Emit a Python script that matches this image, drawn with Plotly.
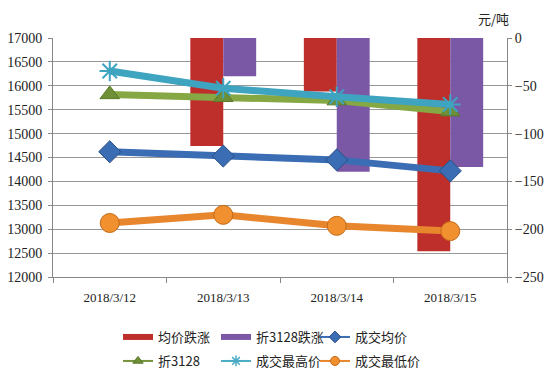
import plotly.graph_objects as go

dates = ["2018/3/12", "2018/3/13", "2018/3/14", "2018/3/15"]
avg_change = [0, -113, -56, -223]        # 均价跌涨 (right axis)
z3128_change = [0, -40, -140, -135]      # 折3128跌涨 (right axis)
avg_price = [14620, 14530, 14450, 14220]  # 成交均价
z3128 = [15820, 15760, 15690, 15460]      # 折3128
high_price = [16310, 15950, 15770, 15610] # 成交最高价
low_price = [13130, 13300, 13070, 12960]  # 成交最低价

L, R, T, B = 53, 46, 38, 100
W, H = 553, 377
PW = W - L - R
PH = H - T - B

fig = go.Figure()
fig.add_trace(go.Bar(x=dates, y=avg_change, name="均价跌涨", yaxis="y", showlegend=False,
                     marker=dict(color="#BE2F2C", line=dict(color="#8E1F1E", width=0))))
fig.add_trace(go.Bar(x=dates, y=z3128_change, name="折3128跌涨", yaxis="y", showlegend=False,
                     marker=dict(color="#7A58A6", line=dict(color="#553B7A", width=0))))

lines = [
    ("成交均价", avg_price, "#3A6DB3", dict(symbol="diamond", size=17, color="#3A6DB3",
                                          line=dict(color="#2A4F86", width=1))),
    ("折3128", z3128, "#86A844", dict(symbol="triangle-up", size=17, color="#6E8F35",
                                      line=dict(color="#5A7A2A", width=1))),
    ("成交最高价", high_price, "#3EA4C0", dict(symbol="asterisk-open", size=17,
                                             line=dict(color="#6FB9D8", width=2))),
    ("成交最低价", low_price, "#E8862E", dict(symbol="circle", size=19, color="#F0902E",
                                            line=dict(color="#C46A18", width=1))),
]
for name, vals, col, mk in lines:
    fig.add_trace(go.Scatter(x=dates, y=vals, name=name, yaxis="y2", mode="lines+markers",
                             line=dict(color=col, width=7), marker=mk, showlegend=False))

# legend proxies (no data)
legend_items = [
    ("均价跌涨", "lines", "#BE2F2C", 6, None, "legend"),
    ("折3128跌涨", "lines", "#7A58A6", 6, None, "legend2"),
    ("成交均价", "lines+markers", "#3A6DB3", 2,
     dict(symbol="diamond", size=9, color="#3A6DB3", line=dict(color="#2A4F86", width=1)), "legend3"),
    ("折3128", "lines+markers", "#77933C", 2,
     dict(symbol="triangle-up", size=9, color="#6E8F35", line=dict(color="#5A7A2A", width=1)), "legend4"),
    ("成交最高价", "lines+markers", "#4BACC6", 2,
     dict(symbol="asterisk-open", size=9, line=dict(color="#6FB9D8", width=1.5)), "legend5"),
    ("成交最低价", "lines+markers", "#E8862E", 2,
     dict(symbol="circle", size=9, color="#F0902E", line=dict(color="#C46A18", width=1)), "legend6"),
]
for name, mode, col, lw, mk, leg in legend_items:
    kw = dict(marker=mk) if mk else {}
    fig.add_trace(go.Scatter(x=[None], y=[None], name=name, mode=mode, yaxis="y2",
                             line=dict(color=col, width=lw), legend=leg, **kw))

def px_x(px):
    return (px - L) / PW

def px_y(py):
    return (H - B - py) / PH

legfont = dict(family="Noto Sans CJK SC", size=13, color="#222")
legpos = {
    "legend": (118, 337), "legend2": (216, 337), "legend3": (315, 337),
    "legend4": (118, 361), "legend5": (216, 361), "legend6": (315, 361),
}
leg_layout = {}
for k, (lx, ly) in legpos.items():
    leg_layout[k] = dict(x=px_x(lx), y=px_y(ly), xanchor="left", yanchor="middle",
                         orientation="h", font=legfont, bgcolor="rgba(0,0,0,0)",
                         borderwidth=0, itemwidth=30)

yfont = dict(family="Liberation Serif", size=14, color="#222")
xfont = dict(family="Liberation Serif", size=13, color="#222")
fig.update_layout(
    width=W, height=H,
    margin=dict(l=L, r=R, t=T, b=B, pad=0, autoexpand=False),
    paper_bgcolor="white", plot_bgcolor="white",
    barmode="group", bargap=0.42, bargroupgap=0,
    showlegend=True,
    xaxis=dict(type="category", tickfont=xfont, showgrid=False, automargin=False,
               showline=True, linecolor="#888", linewidth=1, ticklabelstandoff=8,
               ticks="outside", tickson="boundaries", ticklen=5, tickcolor="#888"),
    yaxis=dict(side="right", range=[-250, 0], dtick=50, tickfont=yfont, automargin=False,
               showgrid=False, zeroline=False, showline=True, linecolor="#888",
               ticks="outside", ticklen=4, tickcolor="#888"),
    yaxis2=dict(side="left", overlaying="y", range=[12000, 17000], dtick=500,
                tickformat="d", automargin=False, ticklabelstandoff=3,
                tickfont=yfont, showgrid=True, gridcolor="#999", gridwidth=1,
                zeroline=False, showline=True, linecolor="#888",
                ticks="outside", ticklen=4, tickcolor="#888"),
    annotations=[dict(text="元/吨", xref="paper", yref="paper",
                      x=px_x(493), y=px_y(18), xanchor="center", yanchor="middle",
                      showarrow=False,
                      font=dict(family="Noto Sans CJK SC", size=13, color="#222"))],
    **leg_layout,
)

fig.write_html("out.html", post_script="document.body.style.margin='0';",
               config={"displayModeBar": False})
